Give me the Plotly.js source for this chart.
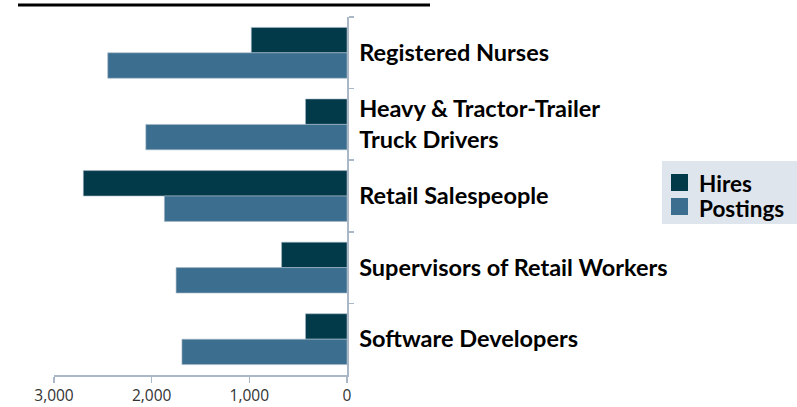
<!DOCTYPE html>
<html>
<head>
<meta charset="utf-8">
<script src="https://cdn.plot.ly/plotly-3.0.1.min.js"></script>
<style>html,body{margin:0;padding:0;background:#fff;}#chart{width:797px;height:407px;}</style>
</head>
<body>
<div id="chart"></div>
<script>
const occupations = ["Registered Nurses", "Heavy & Tractor-Trailer<br>Truck Drivers", "Retail Salespeople", "Supervisors of Retail Workers", "Software Developers"];
const hires = [980, 425, 2700, 670, 425];
const postings = [2450, 2060, 1870, 1750, 1690];
const xTickVals = [3000, 2000, 1000, 0];
const xTickText = ["3,000", "2,000", "1,000", "0"];
const seriesNames = ["Hires", "Postings"];
const seriesColors = ['#033a4a', '#3c6f8f'];

const data = [
  {type: 'bar', orientation: 'h', name: seriesNames[0], y: occupations, x: hires,
   marker: {color: seriesColors[0], line: {color: '#a8b8c8', width: 0.6}}, hoverinfo: 'x+y'},
  {type: 'bar', orientation: 'h', name: seriesNames[1], y: occupations, x: postings,
   marker: {color: seriesColors[1], line: {color: '#a8b8c8', width: 0.6}}, hoverinfo: 'x+y'}
];

// pixel -> paper helpers for the hand-built legend box
const PL = 54, PW = 293, PB = 375, PH = 358;
const px = v => (v - PL) / PW;
const py = v => (PB - v) / PH;

const legendShapes = [
  {type: 'rect', xref: 'paper', yref: 'paper', x0: px(662), x1: px(800), y0: py(224), y1: py(161),
   fillcolor: '#dee5ec', line: {width: 0}, layer: 'below'},
  {type: 'rect', xref: 'paper', yref: 'paper', x0: px(671), x1: px(688), y0: py(191), y1: py(174),
   fillcolor: seriesColors[0], line: {width: 0}},
  {type: 'rect', xref: 'paper', yref: 'paper', x0: px(671), x1: px(688), y0: py(215), y1: py(198),
   fillcolor: seriesColors[1], line: {width: 0}}
];
const legendFont = {family: 'Lato, sans-serif', size: 22.5, color: '#000', weight: 'bold'};
const legendAnn = [
  {xref: 'paper', yref: 'paper', x: px(697), y: py(183), xanchor: 'left', yanchor: 'middle',
   text: seriesNames[0], showarrow: false, font: legendFont},
  {xref: 'paper', yref: 'paper', x: px(697), y: py(208), xanchor: 'left', yanchor: 'middle',
   text: seriesNames[1], showarrow: false, font: legendFont}
];

const layout = {
  width: 797, height: 407,
  margin: {l: 54, r: 450, t: 17, b: 32},
  paper_bgcolor: '#ffffff', plot_bgcolor: '#ffffff',
  barmode: 'group', bargap: 0.29, bargroupgap: 0,
  showlegend: false,
  xaxis: {
    range: [3000, 0], autorange: false,
    tickvals: xTickVals, ticktext: xTickText,
    showgrid: false, zeroline: false,
    showline: true, linecolor: '#a9b7c6', linewidth: 1.5,
    ticks: 'outside', ticklen: 6, tickcolor: '#a9b7c6', tickwidth: 1.5,
    tickfont: {family: '"Open Sans", sans-serif', size: 15.5, color: '#333'},
    ticklabelstandoff: 0
  },
  yaxis: {
    type: 'category', autorange: 'reversed', side: 'right',
    showgrid: false, zeroline: false,
    showline: true, linecolor: '#a9b7c6', linewidth: 1.5,
    ticks: 'outside', tickson: 'boundaries', ticklen: 5, tickcolor: '#a9b7c6', tickwidth: 1.5,
    tickfont: {family: 'Lato, sans-serif', size: 23.5, color: '#000', weight: 'bold'},
    ticklabelstandoff: 6
  },
  shapes: [
    {type: 'line', xref: 'paper', yref: 'paper', x0: px(18), x1: px(430), y0: py(5), y1: py(5),
     line: {color: '#000', width: 3}}
  ].concat(legendShapes),
  annotations: legendAnn
};

Plotly.newPlot('chart', data, layout, {displayModeBar: false, staticPlot: true});
</script>
</body>
</html>
